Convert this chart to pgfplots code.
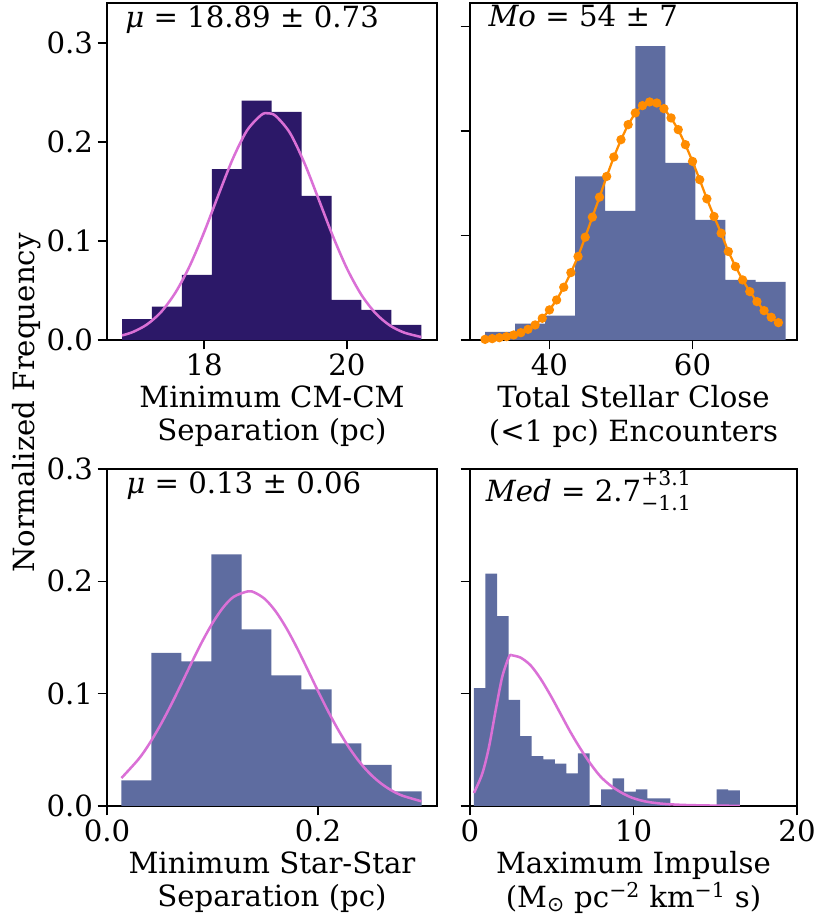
\documentclass[border=0pt]{standalone}
\usepackage{fontspec}
\setmainfont{DejaVu Serif}
\newfontfamily\symfont{DejaVu Sans}
\usepackage{pgfplots}
\pgfplotsset{compat=1.18}

\definecolor{indigo}{HTML}{2C1868}
\definecolor{slate}{HTML}{5E6CA0}
\definecolor{orchid}{HTML}{DA70D6}
\definecolor{darkorange}{HTML}{FF8C00}

\newcommand{\figfont}{\fontsize{21.9}{25}\selectfont}
\newcommand{\scrfont}{\fontsize{15.3}{17}\selectfont}

\tikzset{tag/.style={anchor=base west, font=\figfont, inner sep=0pt}}

\pgfplotsset{
  panel/.style={
    scale only axis,
    width=247.5pt, height=252.75pt,
    ymin=0,
    anchor=south west,
    axis line style={line width=1.1pt},
    every tick/.style={line width=1.1pt, black},
    tick align=outside,
    major tick length=7pt,
    xtick pos=bottom, ytick pos=left,
    ytick={0,0.1,0.2,0.3},
    tick label style={font=\figfont},
    /pgf/number format/assume math mode=true,
    xlabel style={font=\figfont, align=center, at={(axis description cs:0.5,0)},
      anchor=north, yshift=-34pt, inner sep=0pt},
  },
  leftcol/.style={yticklabels={0.0,0.1,0.2,0.3}},
  rightcol/.style={yticklabels={}},
  hist/.style={ybar interval, fill=#1, draw=none},
  fit/.style={orchid, line width=1.9pt, smooth},
}

\begin{document}
\begin{tikzpicture}
\useasboundingbox (0,0) rectangle (614.25pt,689.25pt);

% Minimum CM-CM separation
\begin{axis}[panel, leftcol, at={(80.25pt,434.25pt)},
  xmin=16.64, xmax=21.26, ymax=0.3404,
  xtick={18,20}, xticklabels={18,20},
  xlabel={Minimum CM-CM\\Separation (pc)}]
\addplot[hist=indigo] coordinates {
  (16.850,0.0212) (17.269,0.0337) (17.688,0.0657) (18.107,0.1727)
  (18.526,0.2418) (18.945,0.2303) (19.364,0.1455) (19.783,0.0404)
  (20.202,0.0303) (20.621,0.0152) (21.040,0)};
\addplot[fit] coordinates {
  (16.85,0.0046) (17.0,0.0080) (17.2,0.0157) (17.4,0.0285) (17.6,0.0481)
  (17.8,0.0751) (18.0,0.1089) (18.2,0.1465) (18.4,0.1828) (18.6,0.2116)
  (18.8,0.2273) (18.89,0.2290) (19.0,0.2264) (19.2,0.2093) (19.4,0.1794)
  (19.6,0.1427) (19.8,0.1053) (20.0,0.0721) (20.2,0.0458) (20.4,0.0270)
  (20.6,0.0147) (20.8,0.0075) (21.04,0.0030)};
\node[tag] at (axis description cs:0.0545,0.926) {\textit{μ} = 18.89 ± 0.73};
\end{axis}

% Total close encounters
\begin{axis}[panel, rightcol, at={(352.5pt,434.25pt)}, width=245.25pt,
  xmin=28.9, xmax=74.6, ymax=0.3225,
  xtick={40,60}, xticklabels={40,60},
  xlabel={Total Stellar Close\\(<1 pc) Encounters}]
\addplot[hist=slate] coordinates {
  (31.0,0.0077) (35.2,0.0157) (39.4,0.0233) (43.6,0.1565) (47.8,0.1236)
  (52.0,0.2812) (56.2,0.1696) (60.4,0.1150) (64.6,0.0575) (68.8,0.0556)
  (73.0,0)};
\addplot[darkorange, line width=1.7pt, mark=*, mark size=2.6pt,
  mark options={fill=darkorange, draw=darkorange}] coordinates {
  (31,0.0006) (32,0.0013) (33,0.0022) (34,0.0032) (35,0.0048) (36,0.0070)
  (37,0.0102) (38,0.0144) (39,0.0208) (40,0.0288) (41,0.0383) (42,0.0505)
  (43,0.0645) (44,0.0799) (45,0.0984) (46,0.1176) (47,0.1367) (48,0.1565)
  (49,0.1751) (50,0.1917) (51,0.2061) (52,0.2173) (53,0.2243) (54,0.2278)
  (55,0.2268) (56,0.2214) (57,0.2125) (58,0.2013) (59,0.1869) (60,0.1709)
  (61,0.1534) (62,0.1351) (63,0.1182) (64,0.1022) (65,0.0847) (66,0.0703)
  (67,0.0575) (68,0.0463) (69,0.0367) (70,0.0281) (71,0.0217) (72,0.0166)};
\node[tag] at (axis description cs:0.056,0.9297) {\textit{Mo} = 54 ± 7};
\end{axis}

% Minimum star-star separation
\begin{axis}[panel, leftcol, at={(80.25pt,84.75pt)},
  xmin=0, xmax=0.3128, ymax=0.3,
  xtick={0,0.2}, xticklabels={0.0,0.2},
  xlabel={Minimum Star-Star\\Separation (pc)}]
\addplot[hist=slate] coordinates {
  (0.0137,0.0228) (0.0421,0.1362) (0.0706,0.1288) (0.0990,0.2240)
  (0.1275,0.1573) (0.1559,0.1163) (0.1843,0.1039) (0.2128,0.0558)
  (0.2412,0.0365) (0.2697,0.0131) (0.2981,0)};
\addplot[fit] coordinates {
  (0.0137,0.0249) (0.03,0.0418) (0.04,0.0552) (0.05,0.0710) (0.06,0.0887)
  (0.07,0.1077) (0.08,0.1272) (0.09,0.1460) (0.10,0.1628) (0.11,0.1766)
  (0.12,0.1862) (0.1336,0.1911) (0.14,0.1900) (0.15,0.1840) (0.16,0.1731)
  (0.17,0.1584) (0.18,0.1409) (0.19,0.1218) (0.20,0.1023) (0.21,0.0836)
  (0.22,0.0664) (0.23,0.0512) (0.24,0.0384) (0.25,0.0280) (0.26,0.0199)
  (0.27,0.0137) (0.28,0.0092) (0.298,0.0042)};
\node[tag] at (axis description cs:0.0576,0.928) {\textit{μ} = 0.13 ± 0.06};
\end{axis}

% Maximum impulse
\begin{axis}[panel, rightcol, at={(352.5pt,84.75pt)}, width=245.25pt,
  xmin=0, xmax=20, ymax=0.3,
  xtick={0,10,20}, xticklabels={0,10,20},
  xlabel={Maximum Impulse\\(M\textsubscript{\symfont ⊙} pc\textsuperscript{−2} km\textsuperscript{−1} s)}]
\addplot[hist=slate] coordinates {
  (0.240,0.1050) (0.947,0.2068) (1.654,0.1691) (2.361,0.0944) (3.068,0.0623)
  (3.775,0.0445) (4.482,0.0415) (5.189,0.0377) (5.896,0.0291) (6.603,0.0469)
  (7.310,0) (8.017,0.0148) (8.724,0.0246) (9.431,0.0128) (10.138,0.0148)
  (10.845,0.0068) (11.552,0.0068) (12.259,0) (12.966,0) (13.673,0)
  (14.380,0) (15.087,0.0148) (15.794,0.0139) (16.501,0)};
\addplot[fit] coordinates {
  (0.24,0.0116) (0.75,0.0288) (1.16,0.0525) (1.57,0.0852) (1.97,0.1149)
  (2.38,0.1327) (2.54,0.1342)};
\addplot[fit] coordinates {
  (2.54,0.1342) (3.09,0.1321) (3.70,0.1253) (4.31,0.1134) (4.92,0.0986)
  (5.53,0.0823) (6.14,0.0659) (6.75,0.0511) (7.36,0.0378) (7.97,0.0264)
  (8.58,0.0184) (9.19,0.0125) (9.80,0.0080) (10.41,0.0051) (11.02,0.0033)
  (11.93,0.0018) (13.15,0.0009) (14.78,0.0004) (16.5,0.0001)};
\node[tag] at (axis description cs:0.048,0.903)
  {\textit{Med} = 2.7\rlap{\raisebox{0.55em}{\scrfont +3.1}}\raisebox{-0.3em}{\scrfont −1.1}};
\end{axis}

\node[rotate=90, font=\figfont] at (20.25pt,387pt) {Normalized Frequency};
\end{tikzpicture}
\end{document}
